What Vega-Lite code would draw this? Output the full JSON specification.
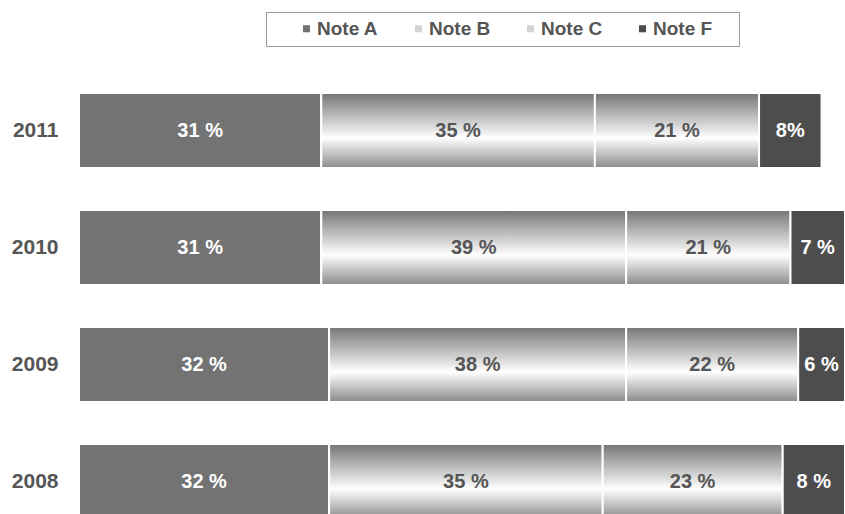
{
  "$schema": "https://vega.github.io/schema/vega-lite/v6.json",
  "autosize": {"type": "none"},
  "padding": {"left": 79, "top": 72, "right": 0, "bottom": 0},
  "width": 766,
  "height": 442,
  "background": "white",
  "config": {
    "view": {"stroke": null},
    "font": "Liberation Sans"
  },
  "data": {
    "values": [
      {"year": "2011", "note": "Note A", "value": 31, "label": "31 %"},
      {"year": "2011", "note": "Note B", "value": 35, "label": "35 %"},
      {"year": "2011", "note": "Note C", "value": 21, "label": "21 %"},
      {"year": "2011", "note": "Note F", "value": 8, "label": "8%"},
      {"year": "2010", "note": "Note A", "value": 31, "label": "31 %"},
      {"year": "2010", "note": "Note B", "value": 39, "label": "39 %"},
      {"year": "2010", "note": "Note C", "value": 21, "label": "21 %"},
      {"year": "2010", "note": "Note F", "value": 7, "label": "7 %"},
      {"year": "2009", "note": "Note A", "value": 32, "label": "32 %"},
      {"year": "2009", "note": "Note B", "value": 38, "label": "38 %"},
      {"year": "2009", "note": "Note C", "value": 22, "label": "22 %"},
      {"year": "2009", "note": "Note F", "value": 6, "label": "6 %"},
      {"year": "2008", "note": "Note A", "value": 32, "label": "32 %"},
      {"year": "2008", "note": "Note B", "value": 35, "label": "35 %"},
      {"year": "2008", "note": "Note C", "value": 23, "label": "23 %"},
      {"year": "2008", "note": "Note F", "value": 8, "label": "8 %"}
    ]
  },
  "transform": [
    {"stack": "value", "groupby": ["year"], "sort": [{"field": "note", "order": "ascending"}], "as": ["x0", "x1"]}
  ],
  "encoding": {
    "y": {
      "field": "year", "type": "nominal", "sort": "descending",
      "scale": {"range": [0, 468], "paddingInner": 0.36, "paddingOuter": 0.18},
      "axis": {
        "title": null, "domain": false, "ticks": false, "labelPadding": 21,
        "labelFont": "Liberation Sans", "labelFontWeight": "bold", "labelFontSize": 21, "labelColor": "#555555"
      }
    }
  },
  "layer": [
    {
      "mark": {"type": "bar", "stroke": "white", "strokeWidth": 2},
      "encoding": {
        "x": {"field": "x0", "type": "quantitative", "scale": {"domain": [0, 98], "nice": false, "zero": false}, "axis": null},
        "x2": {"field": "x1"},
        "color": {
          "field": "note", "type": "nominal",
          "scale": {"domain": ["Note A", "Note B", "Note C", "Note F"], "range": ["#737373", "#d4d4d4", "#d4d4d4", "#4d4d4d"]},
          "legend": {
            "title": "\u00a0", "titleOrient": "left", "titleFontSize": 18, "titlePadding": 24,
            "orient": "none", "direction": "horizontal",
            "legendX": 187, "legendY": -60,
            "strokeColor": "#9a9a9a", "padding": 7, "fillColor": "white",
            "symbolType": "square", "symbolSize": 50, "symbolStrokeWidth": 0,
            "labelFont": "Liberation Sans", "labelFontWeight": "bold", "labelFontSize": 19, "labelColor": "#555555",
            "labelOffset": 1, "columnPadding": 11,
            "labelExpr": "datum.label + '\u00a0\u2800'"
          }
        }
      }
    },
    {
      "transform": [{"filter": "datum.note == 'Note B' || datum.note == 'Note C'"}],
      "mark": {
        "type": "bar", "stroke": "white", "strokeWidth": 2,
        "color": {
          "gradient": "linear", "x1": 0, "y1": 0, "x2": 0, "y2": 1,
          "stops": [
            {"offset": 0, "color": "#757575"},
            {"offset": 0.6, "color": "#ffffff"},
            {"offset": 1, "color": "#8a8a8a"}
          ]
        }
      },
      "encoding": {
        "x": {"field": "x0", "type": "quantitative"},
        "x2": {"field": "x1"}
      }
    },
    {
      "transform": [
        {"fold": ["x0", "x1"], "as": ["edge", "pos"]},
        {"aggregate": [{"op": "mean", "field": "pos", "as": "mid"}], "groupby": ["year", "note", "label"]}
      ],
      "mark": {"type": "text", "font": "Liberation Sans", "fontWeight": "bold", "fontSize": 20, "baseline": "middle", "align": "center"},
      "encoding": {
        "x": {"field": "mid", "type": "quantitative"},
        "text": {"field": "label"},
        "color": {
          "condition": {"test": "datum.note == 'Note A' || datum.note == 'Note F'", "value": "white"},
          "value": "#555555"
        }
      }
    }
  ]
}
